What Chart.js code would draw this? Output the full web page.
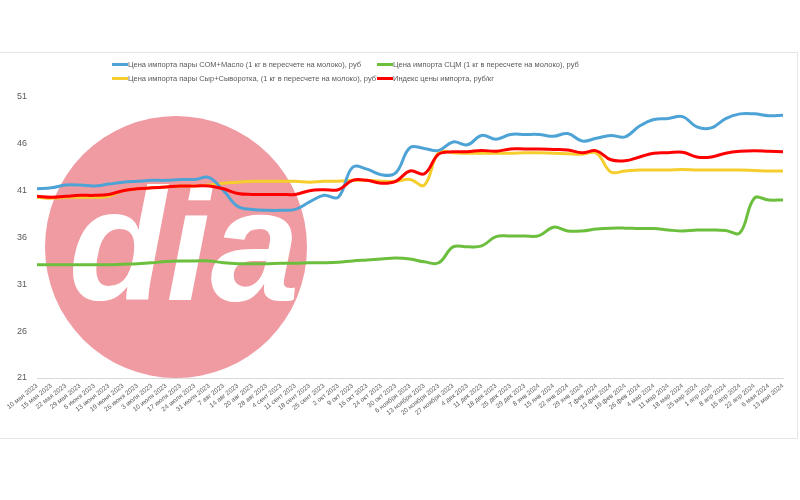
<!DOCTYPE html>
<html>
<head>
<meta charset="utf-8">
<script src="https://cdn.jsdelivr.net/npm/chart.js@4.4.1/dist/chart.umd.min.js"></script>
<style>
  body { margin: 0; background: #fff; }
  #wrap { position: relative; width: 800px; height: 500px; overflow: hidden; }
  #frame { position: absolute; left: -2px; top: 52px; width: 798px; height: 385px; border: 1px solid #e6e6e6; }
  #chart { position: absolute; left: 0; top: 0; }
  #legend {
    position: absolute; left: 112px; top: 57px;
    display: grid; grid-template-columns: 265px auto;
    font: 7.5px "Liberation Sans", Arial, sans-serif;
    color: #595959;
  }
  #legend .item { display: flex; align-items: center; height: 14px; white-space: nowrap; }
  #legend .sw { width: 16px; height: 3px; flex-shrink: 0; }
</style>
</head>
<body>
<div id="wrap">
  <div id="frame"></div>
  <canvas id="chart" width="800" height="500"></canvas>
  <div id="legend"></div>
</div>
<script>
// Import price indices, rub
// =============================================================

const labels = [
  '10 мая 2023', '15 мая 2023', '22 мая 2023', '29 мая 2023', '5 июня 2023', '13 июня 2023',
  '19 июня 2023', '26 июня 2023', '3 июля 2023', '10 июля 2023', '17 июля 2023', '24 июля 2023',
  '31 июля 2023', '7 авг 2023', '14 авг 2023', '20 авг 2023', '28 авг 2023', '4 сент 2023',
  '11 сент 2023', '18 сент 2023', '25 сент 2023', '2 окт 2023', '9 окт 2023', '16 окт 2023',
  '24 окт 2023', '30 окт 2023', '6 ноября 2023', '13 ноября 2023', '20 ноября 2023', '27 ноября 2023',
  '4 дек 2023', '11 дек 2023', '18 дек 2023', '25 дек 2023', '29 дек 2023', '8 янв 2024',
  '15 янв 2024', '22 янв 2024', '29 янв 2024', '7 фев 2024', '13 фев 2024', '19 фев 2024',
  '26 фев 2024', '4 мар 2024', '11 мар 2024', '18 мар 2024', '25 мар 2024', '1 апр 2024',
  '8 апр 2024', '15 апр 2024', '22 апр 2024', '6 мая 2024', '13 мая 2024'
]

const somButter = [
  41.2, 41.3, 41.6, 41.6, 41.5, 41.7, 41.9, 42.0, 42.1, 42.1, 42.2, 42.2, 42.4, 41.0,
  39.3, 39.0, 38.9, 38.9, 39.0, 39.8, 40.5, 40.3, 43.5, 43.3, 42.7, 42.9, 45.6, 45.5,
  45.3, 46.2, 45.9, 46.9, 46.5, 47.0, 47.0, 47.0, 46.8, 47.1, 46.3, 46.6, 46.9, 46.75,
  47.9, 48.6, 48.7, 48.9, 47.8, 47.7, 48.7, 49.2, 49.2, 49.0, 49.05
]

const scm = [
  33.1, 33.1, 33.1, 33.1, 33.1, 33.1, 33.15, 33.2, 33.3, 33.45, 33.5, 33.5, 33.5, 33.3,
  33.2, 33.2, 33.2, 33.25, 33.25, 33.3, 33.3, 33.35, 33.5, 33.6, 33.7, 33.8, 33.7, 33.4,
  33.3, 35.0, 35.0, 35.1, 36.1, 36.15, 36.15, 36.2, 37.1, 36.7, 36.7, 36.9, 37.0, 37.0,
  36.95, 36.95, 36.8, 36.7, 36.8, 36.8, 36.75, 36.5, 40.2, 40.0, 40.0
]

const cheeseWhey = [
  40.3, 40.2, 40.3, 40.3, 40.3, 40.4, 41.0, 41.2, 41.3, 41.4, 41.5, 41.5, 41.6, 41.8,
  41.9, 42.0, 42.0, 42.0, 42.0, 41.9, 42.0, 42.0, 42.1, 42.1, 42.0, 42.0, 42.2, 41.6,
  45.1, 45.05, 45.0, 45.0, 45.0, 45.0, 45.05, 45.05, 45.0, 44.95, 44.9, 45.0, 43.0, 43.1,
  43.2, 43.2, 43.2, 43.25, 43.2, 43.2, 43.2, 43.2, 43.15, 43.1, 43.1
]

const priceIndex = [
  40.4, 40.3, 40.4, 40.5, 40.5, 40.6, 41.0, 41.2, 41.3, 41.4, 41.5, 41.5, 41.5, 41.2,
  40.7, 40.6, 40.6, 40.6, 40.6, 41.0, 41.1, 41.1, 42.1, 42.1, 41.8, 42.0, 43.1, 42.8,
  44.9, 45.15, 45.15, 45.3, 45.2, 45.45, 45.45, 45.45, 45.4, 45.35, 45.05, 45.25, 44.3, 44.2,
  44.6, 45.0, 45.05, 45.1, 44.6, 44.6, 45.0, 45.2, 45.25, 45.2, 45.15
]

const yTicks = [21, 26, 31, 36, 41, 46, 51]

const series = [
  { label: 'Цена импорта пары СОМ+Масло (1 кг в пересчете на молоко), руб', data: somButter, color: '#4ea3d6', order: 1 },
  { label: 'Цена импорта СЦМ (1 кг в пересчете на молоко), руб', data: scm, color: '#6cbf3c', order: 3 },
  { label: 'Цена импорта пары Сыр+Сыворотка, (1 кг в пересчете на молоко), руб', data: cheeseWhey, color: '#f5cd2c', order: 2 },
  { label: 'Индекс цены импорта, руб/кг', data: priceIndex, color: '#ff0000', order: 0 }
]

// pink "dia" logo behind the lines
const watermark = {
  id: 'watermark',
  beforeDatasetsDraw (chart) {
    const ctx = chart.ctx
    ctx.save()
    ctx.fillStyle = '#f09aa1'
    ctx.beginPath()
    ctx.arc(176, 247, 131, 0, Math.PI * 2)
    ctx.fill()
    ctx.fillStyle = '#fff'
    ctx.font = 'italic bold 160px "Liberation Sans", Arial, sans-serif'
    ctx.textAlign = 'center'
    ctx.fillText('dia', 184, 300)
    ctx.restore()
  }
}

function buildLegend () {
  const box = document.getElementById('legend')
  series.forEach(s => {
    const item = document.createElement('div')
    item.className = 'item'
    item.innerHTML = '<span class="sw" style="background:' + s.color + '"></span><span>' + s.label + '</span>'
    box.appendChild(item)
  })
}

function buildChart () {
  new Chart(document.getElementById('chart'), {
    type: 'line',
    data: {
      labels: labels,
      datasets: series.map(s => ({
        label: s.label,
        data: s.data,
        borderColor: s.color,
        backgroundColor: s.color,
        borderWidth: 3,
        pointRadius: 0,
        tension: 0.4,
        order: s.order
      }))
    },
    options: {
      responsive: false,
      animation: false,
      layout: { padding: { top: 97, right: 17, left: 0, bottom: 0 } },
      plugins: {
        legend: { display: false },
        tooltip: { enabled: false }
      },
      scales: {
        x: {
          grid: { display: false, drawTicks: false },
          border: { display: true, color: '#d9d9d9', width: 1 },
          ticks: {
            autoSkip: false,
            minRotation: 38,
            maxRotation: 38,
            padding: 4,
            color: '#595959',
            font: { size: 6.5, family: '"Liberation Sans", Arial, sans-serif' }
          },
          afterFit (scale) { scale.height = 122 }
        },
        y: {
          min: yTicks[0],
          max: yTicks[yTicks.length - 1],
          afterBuildTicks (scale) { scale.ticks = yTicks.map(v => ({ value: v })) },
          grid: { display: false, drawTicks: false },
          border: { display: false },
          ticks: {
            padding: 10,
            color: '#595959',
            font: { size: 9, family: '"Liberation Sans", Arial, sans-serif' }
          },
          afterFit (scale) { scale.width = 37 }
        }
      }
    },
    plugins: [watermark]
  })
}

buildLegend()
buildChart()
</script>
</body>
</html>
